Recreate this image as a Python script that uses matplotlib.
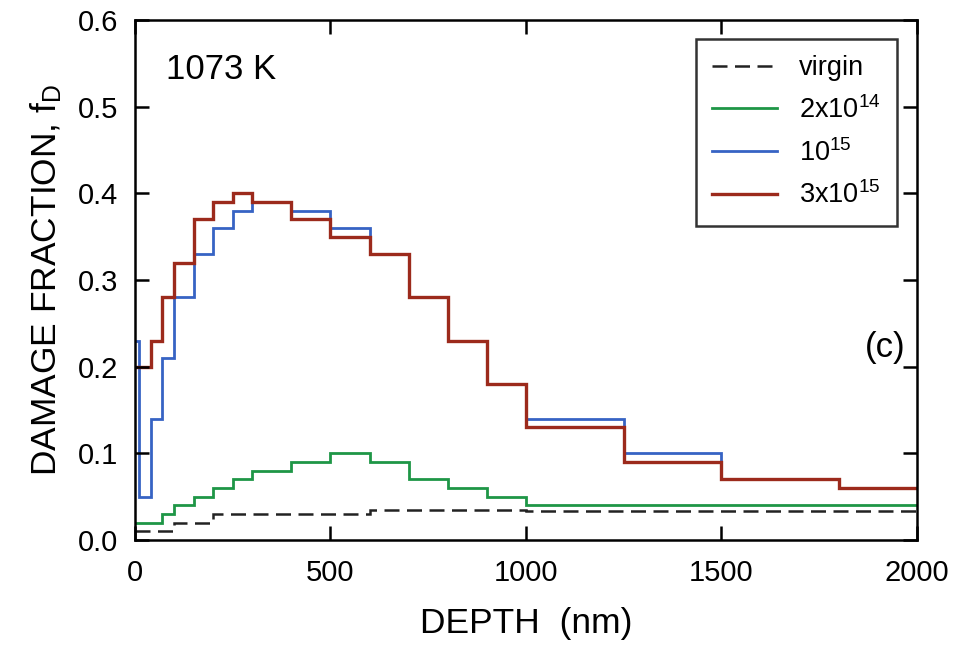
import matplotlib
matplotlib.use("Agg")
import matplotlib.pyplot as plt

plt.rcParams['font.family'] = ['Liberation Sans', 'DejaVu Sans']
plt.rcParams['mathtext.fontset'] = 'custom'
plt.rcParams['mathtext.rm'] = 'Liberation Sans'
plt.rcParams['mathtext.it'] = 'Liberation Sans'

# Data (depth bin edges in nm, damage fraction per bin)
virgin_edges = [0, 100, 200, 600, 1000, 2000]
virgin_vals = [0.01, 0.02, 0.03, 0.035, 0.033]

green_edges = [0, 70, 100, 150, 200, 250, 300, 400, 500, 600, 700, 800, 900, 1000, 2000]
green_vals = [0.02, 0.03, 0.04, 0.05, 0.06, 0.07, 0.08, 0.09, 0.10, 0.09, 0.07, 0.06, 0.05, 0.04]

blue_edges = [0, 10, 40, 70, 100, 150, 200, 250, 300, 400, 500, 600, 700, 800, 900, 1000, 1250, 1500, 1800, 2000]
blue_vals = [0.23, 0.05, 0.14, 0.21, 0.28, 0.33, 0.36, 0.38, 0.39, 0.38, 0.36, 0.33, 0.28, 0.23, 0.18, 0.14, 0.10, 0.07, 0.06]

red_edges = [0, 40, 70, 100, 150, 200, 250, 300, 400, 500, 600, 700, 800, 900, 1000, 1250, 1500, 1800, 2000]
red_vals = [0.20, 0.23, 0.28, 0.32, 0.37, 0.39, 0.40, 0.39, 0.37, 0.35, 0.33, 0.28, 0.23, 0.18, 0.13, 0.09, 0.07, 0.06]

labels = ["virgin", r"2x10$^{14}$", r"10$^{15}$", r"3x10$^{15}$"]
xticks = [0, 500, 1000, 1500, 2000]
yticks = [0.0, 0.1, 0.2, 0.3, 0.4, 0.5, 0.6]

fig = plt.figure(figsize=(9.54, 6.57), dpi=100)
ax = fig.add_axes([0.1415, 0.178, 0.8195, 0.7916])

ax.stairs(virgin_vals, virgin_edges, baseline=None, color='#222222', lw=1.8, ls=(0, (6, 3)), label=labels[0])
ax.stairs(green_vals, green_edges, baseline=None, color='#1e9646', lw=2.0, label=labels[1])
ax.stairs(blue_vals, blue_edges, baseline=None, color='#3763c4', lw=2.0, label=labels[2])
ax.stairs(red_vals, red_edges, baseline=None, color='#9c2a1c', lw=2.4, label=labels[3])

ax.set_xlim(0, 2000)
ax.set_ylim(0, 0.6)
ax.set_xticks(xticks)
ax.set_yticks(yticks)
ax.set_yticklabels([f"{v:.1f}" for v in yticks])
ax.tick_params(direction='in', length=10, width=1.8, labelsize=21, top=True, right=True)
ax.tick_params(axis='x', pad=14)
ax.tick_params(axis='y', pad=12)
for s in ax.spines.values():
    s.set_linewidth(1.8)

ax.set_xlabel("DEPTH  (nm)", fontsize=25.5, labelpad=14)
ax.set_ylabel(r"DAMAGE FRACTION, f$_\mathregular{D}$", fontsize=25.5, labelpad=10)

ax.text(0.04, 0.905, "1073 K", transform=ax.transAxes, fontsize=25, va='center')
ax.text(0.985, 0.37, "(c)", transform=ax.transAxes, fontsize=25, va='center', ha='right')

leg = ax.legend(loc='upper right', bbox_to_anchor=(0.9744, 0.9635), borderaxespad=0,
                fontsize=19.5, frameon=True, fancybox=False, edgecolor='black',
                handlelength=2.4, borderpad=0.6, labelspacing=0.55, handletextpad=0.8)
leg.get_frame().set_linewidth(1.8)

fig.savefig("out.png", dpi=100)
